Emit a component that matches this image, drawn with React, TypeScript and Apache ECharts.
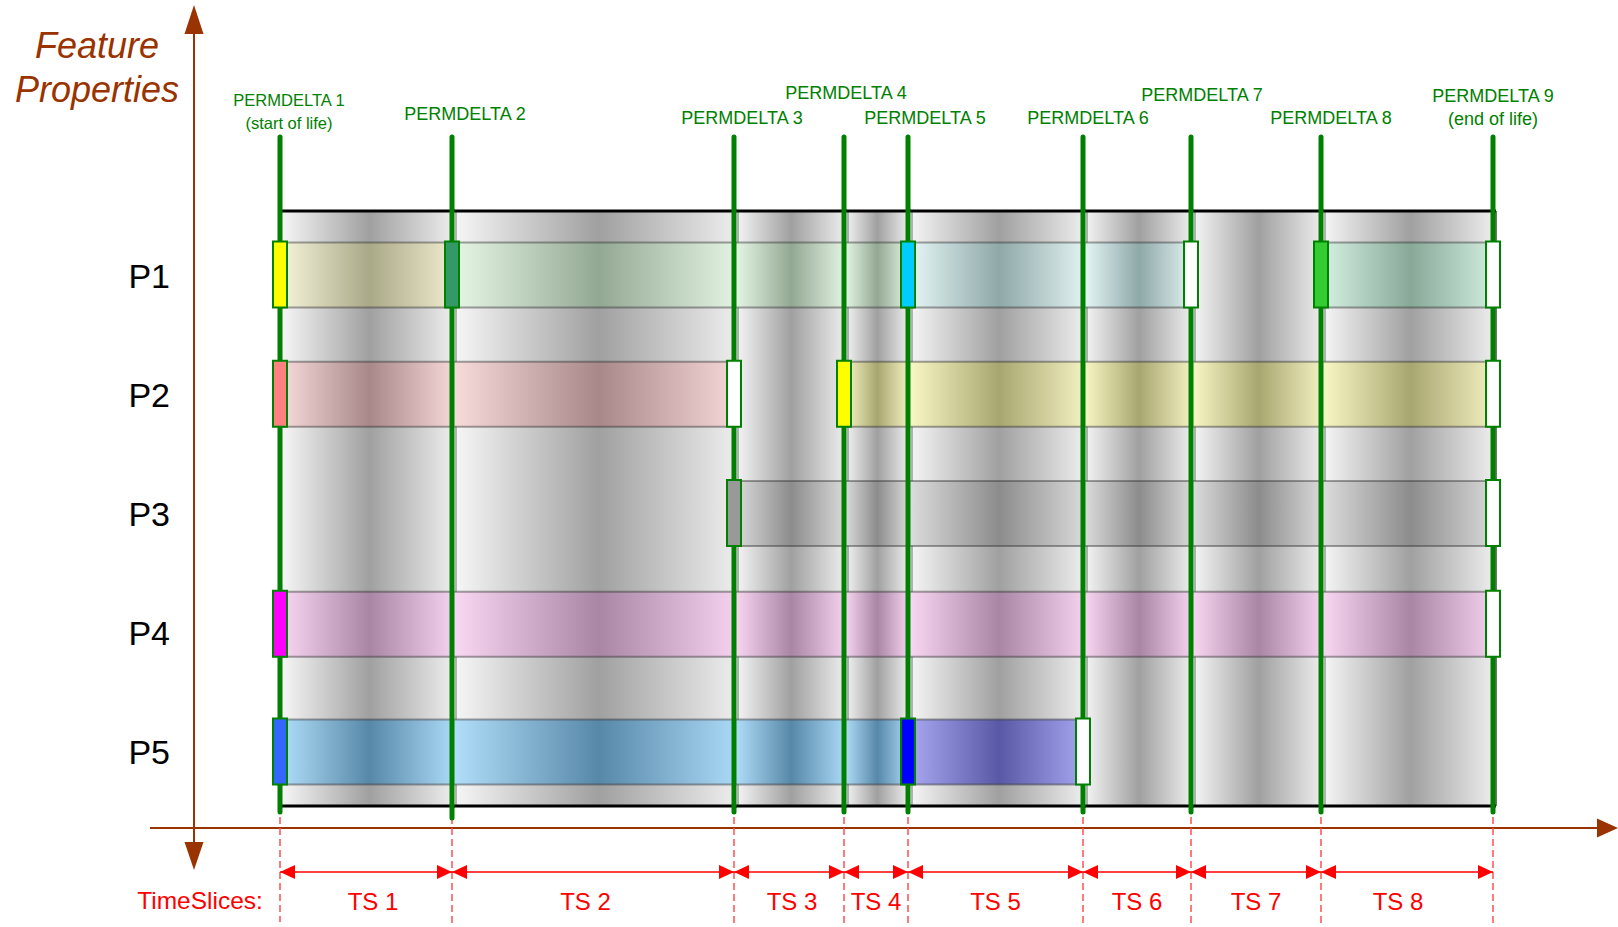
import React, { useEffect, useRef } from 'react';
import * as echarts from 'echarts';

// ---------- data ----------
const ROWS = ['P1', 'P2', 'P3', 'P4', 'P5'];
const PERMDELTA_TIMES = [0, 172, 454, 564, 628, 803, 911, 1041, 1213];
const PERMDELTA_NAMES = ['PERMDELTA 1', 'PERMDELTA 2', 'PERMDELTA 3', 'PERMDELTA 4', 'PERMDELTA 5', 'PERMDELTA 6', 'PERMDELTA 7', 'PERMDELTA 8', 'PERMDELTA 9'];
const PERMDELTA_NOTES = ['(start of life)', '', '', '', '', '', '', '', '(end of life)'];
const TIME_SLICES = ['TS 1', 'TS 2', 'TS 3', 'TS 4', 'TS 5', 'TS 6', 'TS 7', 'TS 8'];

// property value segments: row, from permdelta index, to permdelta index, state
const SEG_ROW = ['P1', 'P1', 'P1', 'P1', 'P2', 'P2', 'P3', 'P4', 'P5', 'P5'];
const SEG_FROM = [0, 1, 4, 7, 0, 3, 2, 0, 0, 4];
const SEG_TO = [1, 4, 6, 8, 2, 8, 8, 8, 4, 5];
const SEG_STATE = ['yellow', 'seagreen', 'cyan', 'green', 'salmon', 'yellow2', 'gray', 'magenta', 'blue', 'indigo'];

// permdelta markers: permdelta index, row, state
const MARK_PD = [0, 0, 0, 0, 1, 2, 2, 3, 4, 4, 5, 6, 7, 8, 8, 8, 8];
const MARK_ROW = ['P1', 'P2', 'P4', 'P5', 'P1', 'P2', 'P3', 'P2', 'P1', 'P5', 'P5', 'P1', 'P1', 'P1', 'P2', 'P3', 'P4'];
const MARK_STATE = ['yellow', 'salmon', 'magenta', 'blue', 'seagreen', 'end', 'gray', 'yellow', 'cyan', 'indigo', 'end', 'end', 'green', 'end', 'end', 'end', 'end'];

// ---------- styles / layout ----------
const MARKER_FILL: Record<string, string> = {
  yellow: '#ffff00', salmon: '#ff8080', magenta: '#ff00ff', blue: '#3366ff', seagreen: '#339966',
  end: '#ffffff', gray: '#999999', cyan: '#00ccff', indigo: '#0000ff', green: '#33cc33',
};
const BAND_TINT: Record<string, [string, string, string]> = {
  yellow: ['#f7f5dc', '#a9a887', '#eeebcc'],
  yellow2: ['#fbf9c6', '#a8a670', '#f2efc0'],
  seagreen: ['#e8f8e8', '#93a893', '#e2f2e2'],
  cyan: ['#e8f8f8', '#8fa8a8', '#e0f0f0'],
  green: ['#d6f2e4', '#88a898', '#d0ecde'],
  salmon: ['#f9dcdc', '#a88888', '#f5d6d6'],
  gray: ['#dedede', '#8c8c8c', '#d8d8d8'],
  magenta: ['#fbd9f5', '#a886a4', '#f2d0ee'],
  blue: ['#b2e0fb', '#5888a8', '#a8d8f4'],
  indigo: ['#aaaaf2', '#5858a6', '#a4a4ee'],
};
const ROW_DY = [0, 0, 0, -8.5, 0];
const LABEL_LAYOUT = [[9, 100], [13, 113.5], [8, 117.5], [2, 93], [17, 117.5], [5, 117.5], [11, 95], [10, 117.5], [0, 96]];
const LABEL_SIZE = [16.5, 18, 18, 18, 18, 18, 18, 18, 18];
const TS_LABEL_DX = [7, -7.5, 3, 0, 0, 0, 0, -9];
const GREEN = '#008000';
const BROWN = '#993300';
const RED = '#ff0000';
const FONT = '"Liberation Sans", Arial, sans-serif';

const grad = (a: string, b: string, c: string) =>
  new echarts.graphic.LinearGradient(0, 0, 1, 0, [
    { offset: 0, color: a },
    { offset: 0.52, color: b },
    { offset: 1, color: c },
  ]);

export default function App() {
  const ref = useRef<HTMLDivElement>(null);

  useEffect(() => {
    if (!ref.current) return;
    const chart = echarts.init(ref.current, null, { renderer: 'svg' });

    const sliceData = TIME_SLICES.map((_, i) => [PERMDELTA_TIMES[i], PERMDELTA_TIMES[i + 1], 0]);
    const bandData: number[][] = [];
    const bandState: string[] = [];
    SEG_ROW.forEach((r, s) => {
      for (let k = SEG_FROM[s]; k < SEG_TO[s]; k++) {
        bandData.push([PERMDELTA_TIMES[k], PERMDELTA_TIMES[k + 1], ROWS.indexOf(r)]);
        bandState.push(SEG_STATE[s]);
      }
    });
    const pdData = PERMDELTA_TIMES.map((t) => [t, 0]);
    const markData = MARK_PD.map((p, i) => [PERMDELTA_TIMES[p], ROWS.indexOf(MARK_ROW[i])]);

    const option: any = {
      animation: false,
      grid: { left: 280, right: 125, top: 216, bottom: 115, containLabel: false, outerBoundsMode: 'none' },
      xAxis: {
        type: 'value', min: PERMDELTA_TIMES[0], max: PERMDELTA_TIMES[PERMDELTA_TIMES.length - 1],
        show: false, splitLine: { show: false },
      },
      yAxis: {
        type: 'category', data: ROWS, inverse: true,
        axisLine: { show: false }, axisTick: { show: false }, splitLine: { show: false },
        axisLabel: { margin: 110, fontSize: 34, color: '#000', fontFamily: FONT, padding: [0, 0, 10, 0] },
      },
      graphic: [
        // vertical (feature properties) axis
        { type: 'line', shape: { x1: 194, y1: 30, x2: 194, y2: 846 }, style: { stroke: BROWN, lineWidth: 2 } },
        { type: 'polygon', shape: { points: [[194, 5], [184.5, 34], [203.5, 34]] }, style: { fill: BROWN } },
        { type: 'polygon', shape: { points: [[194, 870], [184.5, 842], [203.5, 842]] }, style: { fill: BROWN } },
        // horizontal time axis
        { type: 'line', shape: { x1: 150, y1: 828, x2: 1600, y2: 828 }, style: { stroke: BROWN, lineWidth: 2 } },
        { type: 'polygon', shape: { points: [[1618, 828], [1597, 818.5], [1597, 837.5]] }, style: { fill: BROWN } },
        {
          type: 'text', x: 97, y: 45.5,
          style: { text: 'Feature', fill: BROWN, fontSize: 36, fontStyle: 'italic', fontFamily: FONT, align: 'center', verticalAlign: 'middle', textAlign: 'center', textVerticalAlign: 'middle' },
        },
        {
          type: 'text', x: 97, y: 89,
          style: { text: 'Properties', fill: BROWN, fontSize: 36, fontStyle: 'italic', fontFamily: FONT, align: 'center', verticalAlign: 'middle', textAlign: 'center', textVerticalAlign: 'middle' },
        },
        {
          type: 'text', x: 200, y: 900,
          style: { text: 'TimeSlices:', fill: RED, fontSize: 24.5, fontFamily: FONT, align: 'center', verticalAlign: 'middle', textAlign: 'center', textVerticalAlign: 'middle' },
        },
      ],
      series: [
        {
          name: 'slices', type: 'custom', clip: false, z: 1,
          data: sliceData, encode: { x: [0, 1], y: 2 },
          renderItem: (params: any, api: any) => {
            const cs = params.coordSys;
            const x0 = api.coord([api.value(0), 0])[0];
            const x1 = api.coord([api.value(1), 0])[0];
            const top = cs.y - 5;
            const bottom = cs.y + cs.height - 6;
            const children: any[] = [
              { type: 'rect', shape: { x: x0, y: top, width: x1 - x0, height: bottom - top }, style: { fill: grad('#f8f8f8', '#a0a0a0', '#ececec') } },
            ];
            if (params.dataIndex > 0) {
              children.push({ type: 'line', shape: { x1: x0 + 4, y1: top, x2: x0 + 4, y2: bottom }, style: { stroke: 'rgba(0,0,0,0.55)', lineWidth: 1 } });
            }
            if (params.dataIndex === TIME_SLICES.length - 1) {
              children.push({ type: 'line', shape: { x1: x1 + 3, y1: top, x2: x1 + 3, y2: bottom }, style: { stroke: '#444', lineWidth: 1.5 } });
            }
            children.push({ type: 'line', shape: { x1: x0, y1: top, x2: x1 + 3, y2: top }, style: { stroke: '#000', lineWidth: 3 } });
            children.push({ type: 'line', shape: { x1: x0, y1: bottom, x2: x1 + 3, y2: bottom }, style: { stroke: '#000', lineWidth: 3 } });
            return { type: 'group', children };
          },
        },
        {
          name: 'bands', type: 'custom', clip: false, z: 2,
          data: bandData, encode: { x: [0, 1], y: 2 },
          renderItem: (params: any, api: any) => {
            const row = api.value(2);
            const p0 = api.coord([api.value(0), row]);
            const x1 = api.coord([api.value(1), row])[0];
            const h = 65;
            const top = p0[1] - 33 + ROW_DY[row];
            const t = BAND_TINT[bandState[params.dataIndex]];
            return {
              type: 'group',
              children: [
                { type: 'rect', shape: { x: p0[0], y: top, width: x1 - p0[0], height: h }, style: { fill: grad(t[0], t[1], t[2]) } },
                { type: 'line', shape: { x1: p0[0], y1: top, x2: x1, y2: top }, style: { stroke: 'rgba(50,50,50,0.45)', lineWidth: 2 } },
                { type: 'line', shape: { x1: p0[0], y1: top + h, x2: x1, y2: top + h }, style: { stroke: 'rgba(50,50,50,0.45)', lineWidth: 2 } },
              ],
            };
          },
        },
        {
          name: 'permdeltas', type: 'custom', clip: false, z: 3,
          data: pdData, encode: { x: 0, y: 1 },
          renderItem: (params: any, api: any) => {
            const cs = params.coordSys;
            const i = params.dataIndex;
            const x = api.coord([api.value(0), 0])[0];
            const gBottom = cs.y + cs.height;
            const lay = LABEL_LAYOUT[i];
            const children: any[] = [
              { type: 'line', shape: { x1: x, y1: 817, x2: x, y2: i === 0 ? 922 : 927 }, style: { stroke: '#ff5050', lineWidth: 1.5, lineDash: [7, 4] } },
              { type: 'line', shape: { x1: x, y1: cs.y - 79, x2: x, y2: gBottom + (i === 1 ? 6 : 0) }, style: { stroke: GREEN, lineWidth: 5, lineCap: 'round' } },
              { type: 'text', style: { text: PERMDELTA_NAMES[i], x: x + lay[0], y: lay[1], fill: GREEN, fontSize: LABEL_SIZE[i], fontFamily: FONT, align: 'center', verticalAlign: 'middle' } },
            ];
            if (PERMDELTA_NOTES[i]) {
              children.push({ type: 'text', style: { text: PERMDELTA_NOTES[i], x: x + lay[0], y: lay[1] + 23, fill: GREEN, fontSize: LABEL_SIZE[i], fontFamily: FONT, align: 'center', verticalAlign: 'middle' } });
            }
            return { type: 'group', children };
          },
        },
        {
          name: 'markers', type: 'custom', clip: false, z: 4,
          data: markData, encode: { x: 0, y: 1 },
          renderItem: (params: any, api: any) => {
            const row = api.value(1);
            const p = api.coord([api.value(0), row]);
            return {
              type: 'rect',
              shape: { x: p[0] - 7, y: p[1] - 34 + ROW_DY[row], width: 14, height: 66 },
              style: { fill: MARKER_FILL[MARK_STATE[params.dataIndex]], stroke: GREEN, lineWidth: 2 },
            };
          },
        },
        {
          name: 'timeslices', type: 'custom', clip: false, z: 3,
          data: sliceData, encode: { x: [0, 1], y: 2 },
          renderItem: (params: any, api: any) => {
            const x0 = api.coord([api.value(0), 0])[0];
            const x1 = api.coord([api.value(1), 0])[0];
            const y = 872;
            return {
              type: 'group',
              children: [
                { type: 'line', shape: { x1: x0, y1: y, x2: x1, y2: y }, style: { stroke: RED, lineWidth: 1.5 } },
                { type: 'polygon', shape: { points: [[x0, y], [x0 + 15, y - 7], [x0 + 15, y + 7]] }, style: { fill: RED } },
                { type: 'polygon', shape: { points: [[x1, y], [x1 - 15, y - 7], [x1 - 15, y + 7]] }, style: { fill: RED } },
                { type: 'text', style: { text: TIME_SLICES[params.dataIndex], x: (x0 + x1) / 2 + TS_LABEL_DX[params.dataIndex], y: 901, fill: RED, fontSize: 24, fontFamily: FONT, align: 'center', verticalAlign: 'middle' } },
              ],
            };
          },
        },
      ],
    };

    chart.setOption(option);
    return () => chart.dispose();
  }, []);

  return <div ref={ref} style={{ position: 'fixed', left: 0, top: 0, width: '1618px', height: '927px', background: '#fff' }} />;
}
